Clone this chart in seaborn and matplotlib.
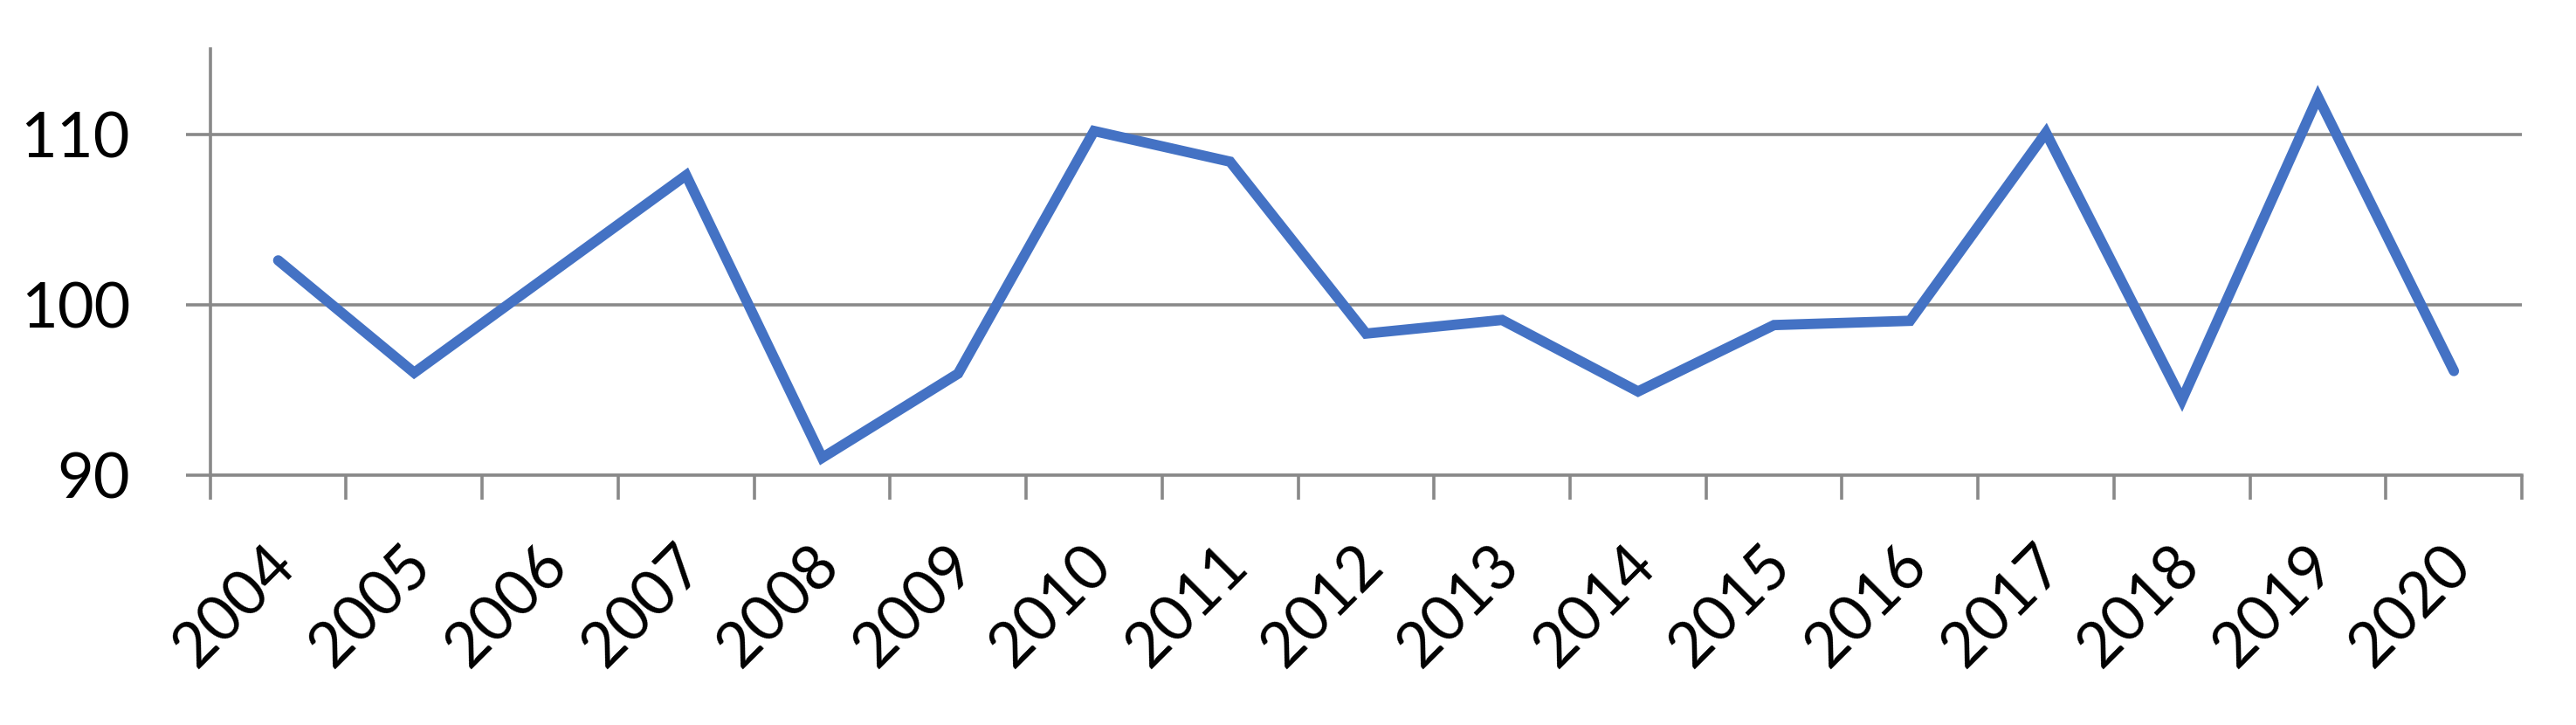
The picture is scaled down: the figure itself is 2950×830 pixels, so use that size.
import numpy as np
import pandas as pd
import seaborn as sns
import matplotlib.pyplot as plt
import matplotlib.transforms as mtransforms
from matplotlib.ticker import FixedLocator

# data
years = ["2004", "2005", "2006", "2007", "2008", "2009", "2010", "2011", "2012",
         "2013", "2014", "2015", "2016", "2017", "2018", "2019", "2020"]
values = [102.6, 96.0, 101.8, 107.6, 91.0, 95.95, 110.2, 108.4, 98.3,
          99.1, 94.9, 98.8, 99.05, 110.1, 94.4, 112.2, 96.1]
yticks = [90, 100, 110]

df = pd.DataFrame({"year": years, "value": values})

sns.set_style("white")
plt.rcParams['font.family'] = ['Lato', 'DejaVu Sans']

fig = plt.figure(figsize=(29.5, 8.3), dpi=100)
ax = fig.add_axes([0.0816, 0.345, 0.8974, 0.587])

grid_col = "#898989"

# gridlines
for t in yticks:
    ax.axhline(t, color=grid_col, lw=2.6, zorder=1)

sns.lineplot(data=df, x="year", y="value", sort=False, color="#4472C4",
             lw=8.5, ax=ax, zorder=3, solid_capstyle="round", solid_joinstyle="miter")

ax.set_xlim(-0.5, len(years) - 0.5)
ax.set_ylim(90, 115)
ax.set_yticks(yticks)
ax.set_xticks(range(len(years)))
ax.set_xticklabels(years, rotation=45, ha="right", rotation_mode="anchor")
ax.xaxis.set_minor_locator(FixedLocator(np.arange(-0.5, len(years), 1.0)))

ax.tick_params(axis="x", which="major", length=0, pad=50, labelsize=51, bottom=True,
               labelcolor="black")
ax.tick_params(axis="x", which="minor", length=20, width=2.6, color=grid_col,
               direction="out", bottom=True)
ax.tick_params(axis="y", which="major", length=20, width=2.6, color=grid_col,
               direction="out", pad=46, labelsize=52, left=True, labelcolor="black")

# nudge the rotated year labels a bit to the left
shift = mtransforms.ScaledTranslation(-0.14, 0, fig.dpi_scale_trans)
for lab in ax.get_xticklabels():
    lab.set_transform(lab.get_transform() + shift)

for s in ["top", "right"]:
    ax.spines[s].set_visible(False)
for s in ["left", "bottom"]:
    ax.spines[s].set_color(grid_col)
    ax.spines[s].set_linewidth(2.6)

ax.set_xlabel("")
ax.set_ylabel("")

fig.savefig("out.png", dpi=100, facecolor="white")
